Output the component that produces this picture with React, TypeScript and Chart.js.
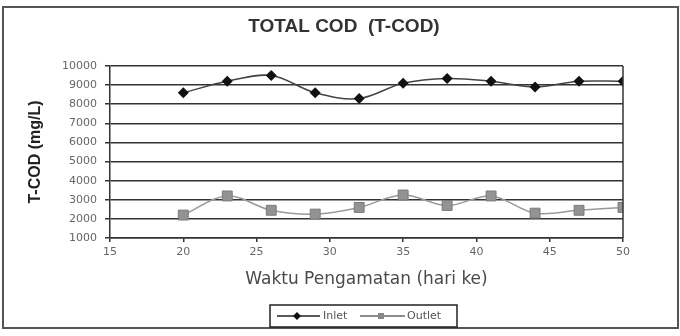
import React, { useEffect, useRef } from "react";
import { Chart, registerables } from "chart.js";

Chart.register(...registerables);

// Observation days (hari ke)
const days = [20, 23, 26, 29, 32, 35, 38, 41, 44, 47, 50];
// Total COD, mg/L
const inlet = [8600, 9200, 9500, 8600, 8300, 9100, 9350, 9200, 8900, 9200, 9200];
const outlet = [2200, 3200, 2450, 2250, 2600, 3250, 2700, 3200, 2300, 2450, 2600];

const titleText = "TOTAL COD  (T-COD)";
const yTitle = "T-COD (mg/L)";
const xTitle = "Waktu Pengamatan (hari ke)";
const legendLabels = ["Inlet", "Outlet"];

const FONT = "'DejaVu Sans', 'Liberation Sans', sans-serif";
const BOLD = "'Liberation Sans', Arial, sans-serif";

const decorations = {
  id: "decorations",
  afterDraw(chart: any) {
    const { ctx, chartArea } = chart;
    ctx.save();

    // outer frame
    ctx.strokeStyle = "#555";
    ctx.lineWidth = 2;
    ctx.strokeRect(3, 7, 675, 321);

    // plot area outline (right side)
    ctx.strokeStyle = "#333";
    ctx.lineWidth = 1.5;
    ctx.beginPath();
    ctx.moveTo(chartArea.right, chartArea.top);
    ctx.lineTo(chartArea.right, chartArea.bottom);
    ctx.stroke();

    // title
    ctx.fillStyle = "#333";
    ctx.font = `bold 19px ${BOLD}`;
    ctx.textAlign = "center";
    ctx.textBaseline = "middle";
    ctx.fillText(titleText, 344, 27);

    // legend box
    const bx = 270, by = 305, bw = 187, bh = 22;
    ctx.fillStyle = "#fff";
    ctx.fillRect(bx, by, bw, bh);
    ctx.strokeStyle = "#222";
    ctx.lineWidth = 1.5;
    ctx.strokeRect(bx, by, bw, bh);
    const cy = by + bh / 2;

    // Inlet entry
    ctx.strokeStyle = "#222";
    ctx.lineWidth = 1.5;
    ctx.beginPath();
    ctx.moveTo(277, cy);
    ctx.lineTo(320, cy);
    ctx.stroke();
    ctx.fillStyle = "#111";
    ctx.beginPath();
    ctx.moveTo(297, cy - 4);
    ctx.lineTo(301, cy);
    ctx.lineTo(297, cy + 4);
    ctx.lineTo(293, cy);
    ctx.closePath();
    ctx.fill();

    // Outlet entry
    ctx.strokeStyle = "#666";
    ctx.beginPath();
    ctx.moveTo(360, cy);
    ctx.lineTo(405, cy);
    ctx.stroke();
    ctx.fillStyle = "#888";
    ctx.fillRect(378, cy - 3, 6, 6);

    ctx.fillStyle = "#555";
    ctx.font = `11px ${FONT}`;
    ctx.textAlign = "left";
    ctx.fillText(legendLabels[0], 323, cy);
    ctx.fillText(legendLabels[1], 407, cy);

    ctx.restore();
  },
};

export default function App() {
  const ref = useRef<HTMLCanvasElement | null>(null);

  useEffect(() => {
    if (!ref.current) return;
    const chart = new Chart(ref.current, {
      type: "line",
      data: {
        datasets: [
          {
            label: legendLabels[0],
            data: days.map((d, i) => ({ x: d, y: inlet[i] })),
            borderColor: "#444",
            borderWidth: 1.5,
            pointStyle: "rectRot",
            pointRadius: 5.5,
            pointBackgroundColor: "#111",
            pointBorderColor: "#111",
            pointBorderWidth: 0,
            tension: 0.35,
          },
          {
            label: legendLabels[1],
            data: days.map((d, i) => ({ x: d, y: outlet[i] })),
            borderColor: "#9a9a9a",
            borderWidth: 1.5,
            pointStyle: "rect",
            pointRadius: 7,
            pointBackgroundColor: "#939393",
            pointBorderColor: "#7a7a7a",
            pointBorderWidth: 1,
            tension: 0.35,
          },
        ],
      },
      options: {
        animation: false,
        responsive: false,
        maintainAspectRatio: false,
        layout: { padding: { left: 26, top: 66, right: 57, bottom: 46 } },
        plugins: {
          legend: { display: false },
          title: { display: false },
          tooltip: { enabled: false },
        },
        scales: {
          x: {
            type: "linear",
            min: 15,
            max: 50,
            afterFit: (s: any) => {
              s.height = 52;
            },
            ticks: {
              stepSize: 5,
              color: "#666",
              font: { family: FONT, size: 11 },
              padding: 4,
              maxRotation: 0,
            },
            grid: {
              drawOnChartArea: false,
              drawTicks: true,
              tickLength: 4,
              color: "#333",
              lineWidth: 1.5,
            },
            border: { color: "#333", width: 1.5 },
            title: {
              display: true,
              text: xTitle,
              color: "#4a4a4a",
              font: { family: FONT, size: 17 },
              padding: { top: 0, bottom: 0 },
            },
          },
          y: {
            min: 1000,
            max: 10000,
            afterFit: (s: any) => {
              s.width = 84;
            },
            ticks: {
              stepSize: 1000,
              color: "#666",
              font: { family: FONT, size: 11 },
              padding: 8,
              callback: (v: any) => String(v),
            },
            grid: {
              color: "#333",
              lineWidth: 1.5,
              tickLength: 5,
            },
            border: { color: "#333", width: 1.5 },
            title: {
              display: true,
              text: yTitle,
              color: "#222",
              font: { family: BOLD, size: 16, weight: "bold" },
              padding: { top: 0, bottom: 0 },
            },
          },
        },
      },
      plugins: [decorations],
    });
    return () => chart.destroy();
  }, []);

  return (
    <div style={{ position: "absolute", left: 0, top: 0, width: 680, height: 336, background: "#fff" }}>
      <canvas ref={ref} width={680} height={336} />
    </div>
  );
}
